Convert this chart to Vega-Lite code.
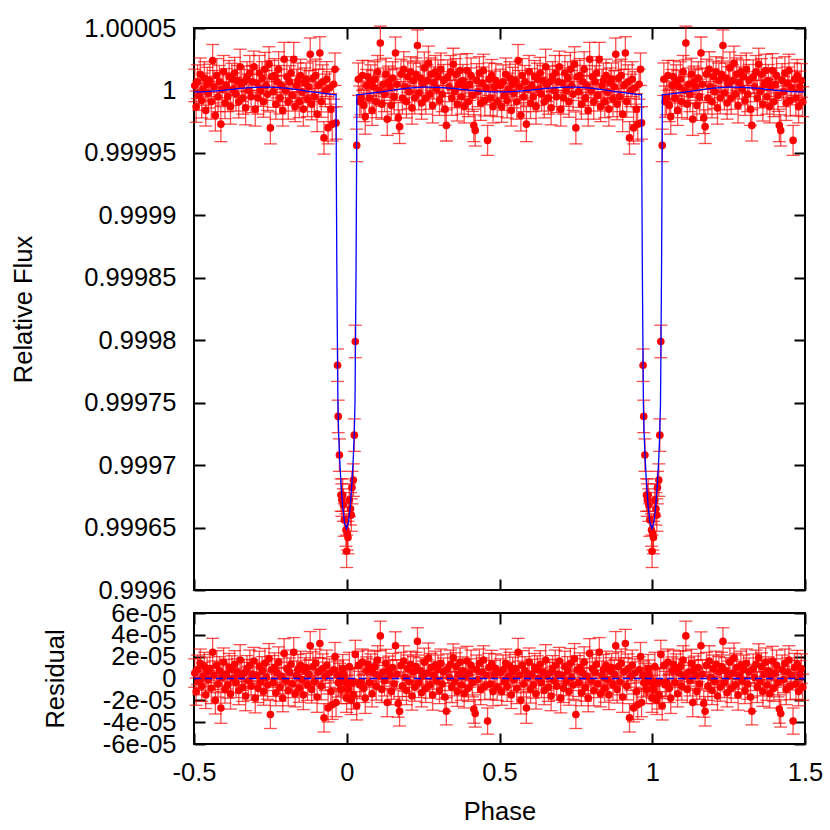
{
"$schema":"https://vega.github.io/schema/vega-lite/v6.json",
"background":"white",
"padding":{"left":10,"top":15,"right":5,"bottom":5},
"config":{"font":"Liberation Sans","view":{"stroke":"black","strokeWidth":2},
"axis":{"domain":false,"grid":false,"tickColor":"black","tickWidth":2,"tickSize":-11,"labelFont":"Liberation Sans","labelFontSize":25.5,"labelColor":"black","titleFont":"Liberation Sans","titleFontSize":25.5,"titleFontWeight":"normal","titleColor":"black","labelOverlap":false,"labelFlush":false,"labelBound":false}},
"datasets":{
"zero":[{"p":-0.5,"r":0},{"p":1.5,"r":0}],
"model":[{"p":-0.5,"f":0.9999988},{"p":-0.475,"f":0.9999989},{"p":-0.45,"f":0.9999992},{"p":-0.425,"f":0.9999997},{"p":-0.4,"f":1.0000003},{"p":-0.375,"f":1.0000009},{"p":-0.35,"f":1.0000016},{"p":-0.325,"f":1.0000021},{"p":-0.3,"f":1.0000025},{"p":-0.275,"f":1.0000027},{"p":-0.25,"f":1.0000026},{"p":-0.225,"f":1.0000023},{"p":-0.2,"f":1.0000018},{"p":-0.175,"f":1.000001},{"p":-0.15,"f":1.0000002},{"p":-0.125,"f":0.9999993},{"p":-0.1,"f":0.9999984},{"p":-0.075,"f":0.9999976},{"p":-0.05,"f":0.9999969},{"p":-0.04,"f":0.9999967},{"p":-0.035,"f":0.9999966},{"p":-0.034,"f":0.99993},{"p":-0.0325,"f":0.99986},{"p":-0.031,"f":0.99981},{"p":-0.029,"f":0.99975},{"p":-0.0265,"f":0.999725},{"p":-0.0235,"f":0.999706},{"p":-0.019,"f":0.999686},{"p":-0.0135,"f":0.999667},{"p":-0.0075,"f":0.999654},{"p":-0.001,"f":0.999649},{"p":0.0055,"f":0.999654},{"p":0.0115,"f":0.999667},{"p":0.017,"f":0.999686},{"p":0.0215,"f":0.999706},{"p":0.0245,"f":0.999725},{"p":0.027,"f":0.99975},{"p":0.029,"f":0.99981},{"p":0.0305,"f":0.99986},{"p":0.032,"f":0.99993},{"p":0.033,"f":0.9999966},{"p":0.04,"f":0.9999967},{"p":0.05,"f":0.9999969},{"p":0.075,"f":0.9999976},{"p":0.1,"f":0.9999984},{"p":0.125,"f":0.9999993},{"p":0.15,"f":1.0000002},{"p":0.175,"f":1.000001},{"p":0.2,"f":1.0000018},{"p":0.225,"f":1.0000023},{"p":0.25,"f":1.0000026},{"p":0.275,"f":1.0000027},{"p":0.3,"f":1.0000025},{"p":0.325,"f":1.0000021},{"p":0.35,"f":1.0000016},{"p":0.375,"f":1.0000009},{"p":0.4,"f":1.0000003},{"p":0.425,"f":0.9999997},{"p":0.45,"f":0.9999992},{"p":0.475,"f":0.9999989},{"p":0.5,"f":0.9999988},{"p":0.525,"f":0.9999989},{"p":0.55,"f":0.9999992},{"p":0.575,"f":0.9999997},{"p":0.6,"f":1.0000003},{"p":0.625,"f":1.0000009},{"p":0.65,"f":1.0000016},{"p":0.675,"f":1.0000021},{"p":0.7,"f":1.0000025},{"p":0.725,"f":1.0000027},{"p":0.75,"f":1.0000026},{"p":0.775,"f":1.0000023},{"p":0.8,"f":1.0000018},{"p":0.825,"f":1.000001},{"p":0.85,"f":1.0000002},{"p":0.875,"f":0.9999993},{"p":0.9,"f":0.9999984},{"p":0.925,"f":0.9999976},{"p":0.95,"f":0.9999969},{"p":0.96,"f":0.9999967},{"p":0.965,"f":0.9999966},{"p":0.966,"f":0.99993},{"p":0.9675,"f":0.99986},{"p":0.969,"f":0.99981},{"p":0.971,"f":0.99975},{"p":0.9735,"f":0.999725},{"p":0.9765,"f":0.999706},{"p":0.981,"f":0.999686},{"p":0.9865,"f":0.999667},{"p":0.9925,"f":0.999654},{"p":0.999,"f":0.999649},{"p":1.0055,"f":0.999654},{"p":1.0115,"f":0.999667},{"p":1.017,"f":0.999686},{"p":1.0215,"f":0.999706},{"p":1.0245,"f":0.999725},{"p":1.027,"f":0.99975},{"p":1.029,"f":0.99981},{"p":1.0305,"f":0.99986},{"p":1.032,"f":0.99993},{"p":1.033,"f":0.9999966},{"p":1.04,"f":0.9999967},{"p":1.05,"f":0.9999969},{"p":1.075,"f":0.9999976},{"p":1.1,"f":0.9999984},{"p":1.125,"f":0.9999993},{"p":1.15,"f":1.0000002},{"p":1.175,"f":1.000001},{"p":1.2,"f":1.0000018},{"p":1.225,"f":1.0000023},{"p":1.25,"f":1.0000026},{"p":1.275,"f":1.0000027},{"p":1.3,"f":1.0000025},{"p":1.325,"f":1.0000021},{"p":1.35,"f":1.0000016},{"p":1.375,"f":1.0000009},{"p":1.4,"f":1.0000003},{"p":1.425,"f":0.9999997},{"p":1.45,"f":0.9999992},{"p":1.475,"f":0.9999989},{"p":1.5,"f":0.9999988}],
"obs":[
{"p":-0.4975,"f":1.000004,"r":5e-6,"e":1.3e-5},{"p":-0.493,"f":0.999987,"r":-1.2e-5,"e":1.25e-5},{"p":-0.4885,"f":1.000007,"r":8e-6,"e":1.35e-5},{"p":-0.484,"f":0.999996,"r":-3e-6,"e":1.2e-5},{"p":-0.4795,"f":1.000013,"r":1.4e-5,"e":1.3e-5},{"p":-0.475,"f":0.999992,"r":-7e-6,"e":1.4e-5},{"p":-0.4705,"f":1.000001,"r":2e-6,"e":1.28e-5},{"p":-0.466,"f":1.00001,"r":1.1e-5,"e":1.3e-5},{"p":-0.4615,"f":0.999984,"r":-1.5e-5,"e":1.25e-5},{"p":-0.457,"f":1.000005,"r":6e-6,"e":1.35e-5},
{"p":-0.4525,"f":0.999998,"r":-1e-6,"e":1.2e-5},{"p":-0.448,"f":1.000008,"r":9e-6,"e":1.3e-5},{"p":-0.4435,"f":0.999991,"r":-9e-6,"e":1.4e-5},{"p":-0.439,"f":1.000024,"r":2.4e-5,"e":1.28e-5},{"p":-0.4345,"f":1.000003,"r":3e-6,"e":1.3e-5},{"p":-0.43,"f":0.99998,"r":-2e-5,"e":1.25e-5},{"p":-0.4255,"f":1.000012,"r":1.2e-5,"e":1.35e-5},{"p":-0.421,"f":0.999995,"r":-5e-6,"e":1.2e-5},{"p":-0.4165,"f":1.000007,"r":7e-6,"e":1.3e-5},{"p":-0.412,"f":0.999973,"r":-2.7e-5,"e":1.4e-5},
{"p":-0.4075,"f":1.000001,"r":1e-6,"e":1.28e-5},{"p":-0.403,"f":1.000015,"r":1.5e-5,"e":1.3e-5},{"p":-0.3985,"f":0.99999,"r":-1e-5,"e":1.25e-5},{"p":-0.394,"f":1.000004,"r":4e-6,"e":1.35e-5},{"p":-0.3895,"f":0.999995,"r":-6e-6,"e":1.2e-5},{"p":-0.385,"f":1.000011,"r":1e-5,"e":1.3e-5},{"p":-0.3805,"f":0.999987,"r":-1.4e-5,"e":1.4e-5},{"p":-0.376,"f":1.000009,"r":8e-6,"e":1.28e-5},{"p":-0.3715,"f":1.000001,"r":0,"e":1.3e-5},{"p":-0.367,"f":1.000014,"r":1.3e-5,"e":1.25e-5},
{"p":-0.3625,"f":0.999997,"r":-4e-6,"e":1.35e-5},{"p":-0.358,"f":1.000008,"r":6e-6,"e":1.2e-5},{"p":-0.3535,"f":0.999991,"r":-1.1e-5,"e":1.3e-5},{"p":-0.349,"f":1.000019,"r":1.7e-5,"e":1.4e-5},{"p":-0.3445,"f":1.000004,"r":2e-6,"e":1.28e-5},{"p":-0.34,"f":0.999994,"r":-8e-6,"e":1.3e-5},{"p":-0.3355,"f":1.000007,"r":5e-6,"e":1.25e-5},{"p":-0.331,"f":0.999986,"r":-1.6e-5,"e":1.35e-5},{"p":-0.3265,"f":1.000011,"r":9e-6,"e":1.2e-5},{"p":-0.322,"f":1.0,"r":-2e-6,"e":1.3e-5},
{"p":-0.3175,"f":1.000014,"r":1.2e-5,"e":1.4e-5},{"p":-0.313,"f":0.999995,"r":-7e-6,"e":1.28e-5},{"p":-0.3085,"f":1.000007,"r":4e-6,"e":1.3e-5},{"p":-0.304,"f":1.000019,"r":1.6e-5,"e":1.25e-5},{"p":-0.2995,"f":0.999985,"r":-1.8e-5,"e":1.35e-5},{"p":-0.295,"f":1.000006,"r":3e-6,"e":1.2e-5},{"p":-0.2905,"f":0.999994,"r":-9e-6,"e":1.3e-5},{"p":-0.286,"f":1.000014,"r":1.1e-5,"e":1.4e-5},{"p":-0.2815,"f":1.0,"r":-3e-6,"e":1.28e-5},{"p":-0.277,"f":1.00001,"r":7e-6,"e":1.3e-5},
{"p":-0.2725,"f":0.999991,"r":-1.2e-5,"e":1.25e-5},{"p":-0.268,"f":1.000017,"r":1.4e-5,"e":1.35e-5},{"p":-0.2635,"f":1.000004,"r":1e-6,"e":1.2e-5},{"p":-0.259,"f":0.999997,"r":-6e-6,"e":1.3e-5},{"p":-0.2545,"f":1.000021,"r":1.8e-5,"e":1.4e-5},{"p":-0.25,"f":0.99997,"r":-3.3e-5,"e":1.28e-5},{"p":-0.2455,"f":1.000011,"r":8e-6,"e":1.3e-5},{"p":-0.241,"f":0.999999,"r":-4e-6,"e":1.25e-5},{"p":-0.2365,"f":1.000012,"r":1e-5,"e":1.35e-5},{"p":-0.232,"f":0.999989,"r":-1.3e-5,"e":1.2e-5},
{"p":-0.2275,"f":1.000007,"r":5e-6,"e":1.3e-5},{"p":-0.223,"f":1.000017,"r":1.5e-5,"e":1.4e-5},{"p":-0.2185,"f":0.999994,"r":-8e-6,"e":1.28e-5},{"p":-0.214,"f":1.000004,"r":2e-6,"e":1.3e-5},{"p":-0.2095,"f":0.999984,"r":-1.8e-5,"e":1.25e-5},{"p":-0.205,"f":1.000025,"r":2.3e-5,"e":1.35e-5},{"p":-0.2005,"f":1.0,"r":-2e-6,"e":1.2e-5},{"p":-0.196,"f":1.000011,"r":9e-6,"e":1.3e-5},{"p":-0.1915,"f":0.999991,"r":-1.1e-5,"e":1.4e-5},{"p":-0.187,"f":1.000007,"r":6e-6,"e":1.28e-5},
{"p":-0.1825,"f":1.000014,"r":1.3e-5,"e":1.3e-5},{"p":-0.178,"f":0.999996,"r":-5e-6,"e":1.25e-5},{"p":-0.1735,"f":1.000025,"r":2.4e-5,"e":1.35e-5},{"p":-0.169,"f":0.999987,"r":-1.4e-5,"e":1.2e-5},{"p":-0.1645,"f":1.000004,"r":3e-6,"e":1.3e-5},{"p":-0.16,"f":1.000008,"r":8e-6,"e":1.4e-5},{"p":-0.1555,"f":0.999991,"r":-9e-6,"e":1.28e-5},{"p":-0.151,"f":1.000012,"r":1.2e-5,"e":1.3e-5},{"p":-0.1465,"f":0.999999,"r":-1e-6,"e":1.25e-5},{"p":-0.142,"f":0.999985,"r":-1.5e-5,"e":1.35e-5},
{"p":-0.1375,"f":1.000006,"r":7e-6,"e":1.2e-5},{"p":-0.133,"f":1.000009,"r":1e-5,"e":1.3e-5},{"p":-0.1285,"f":0.999993,"r":-6e-6,"e":1.4e-5},{"p":-0.124,"f":1.000003,"r":4e-6,"e":1.28e-5},{"p":-0.1195,"f":1.000029,"r":3e-5,"e":1.3e-5},{"p":-0.115,"f":0.999989,"r":-1e-5,"e":1.25e-5},{"p":-0.1105,"f":1.00001,"r":1.1e-5,"e":1.35e-5},{"p":-0.106,"f":0.999995,"r":-3e-6,"e":1.2e-5},{"p":-0.1015,"f":1.000012,"r":1.4e-5,"e":1.3e-5},{"p":-0.097,"f":0.999981,"r":-1.7e-5,"e":1.4e-5},
{"p":-0.0925,"f":1.000004,"r":6e-6,"e":1.28e-5},{"p":-0.088,"f":1.00003,"r":3.2e-5,"e":1.3e-5},{"p":-0.0835,"f":0.999991,"r":-7e-6,"e":1.25e-5},{"p":-0.079,"f":1.000007,"r":9e-6,"e":1.35e-5},{"p":-0.0745,"f":0.999962,"r":-3.6e-5,"e":1.3e-5},{"p":-0.07,"f":1.0,"r":2e-6,"e":1.3e-5},{"p":-0.0655,"f":1.000009,"r":1.2e-5,"e":1.4e-5},{"p":-0.061,"f":0.99997,"r":-2.7e-5,"e":1.28e-5},{"p":-0.0565,"f":1.000002,"r":5e-6,"e":1.3e-5},{"p":-0.052,"f":0.999985,"r":-1.2e-5,"e":1.25e-5},
{"p":-0.0475,"f":0.999973,"r":-2.4e-5,"e":1.35e-5},{"p":-0.043,"f":1.000005,"r":8e-6,"e":1.2e-5},{"p":-0.0385,"f":1.000017,"r":2e-5,"e":1.3e-5},
{"p":-0.035,"f":0.999974,"r":-2.2e-5,"e":1.3e-5},{"p":-0.03,"f":0.99978,"r":3e-6,"e":1.3e-5},{"p":-0.028,"f":0.999739,"r":-4e-6,"e":1.3e-5},{"p":-0.024,"f":0.999708,"r":1e-6,"e":1.3e-5},{"p":-0.019,"f":0.999676,"r":-1e-5,"e":1.3e-5},{"p":-0.016,"f":0.999672,"r":-3e-6,"e":1.3e-5},{"p":-0.0133,"f":0.999676,"r":9e-6,"e":1.3e-5},{"p":-0.011,"f":0.999668,"r":4e-6,"e":1.3e-5},{"p":-0.008,"f":0.999656,"r":-1e-6,"e":1.3e-5},{"p":-0.0025,"f":0.999648,"r":-2e-6,"e":1.3e-5},{"p":-0.0005,"f":0.999631,"r":-1.8e-5,"e":1.3e-5},
{"p":0.002,"f":0.999645,"r":-5e-6,"e":1.3e-5},{"p":0.004,"f":0.999642,"r":-1e-5,"e":1.3e-5},{"p":0.0085,"f":0.999672,"r":1.1e-5,"e":1.3e-5},{"p":0.012,"f":0.999665,"r":-3e-6,"e":1.3e-5},{"p":0.015,"f":0.99966,"r":-2e-5,"e":1.3e-5},{"p":0.017,"f":0.999682,"r":-4e-6,"e":1.3e-5},{"p":0.0215,"f":0.999688,"r":-1.5e-5,"e":1.3e-5},{"p":0.0248,"f":0.999724,"r":-3e-6,"e":1.3e-5},{"p":0.028,"f":0.999799,"r":2.2e-5,"e":1.3e-5},{"p":0.0326,"f":0.999956,"r":-2.5e-5,"e":1.3e-5},
{"p":0.038,"f":1.000009,"r":1.2e-5,"e":1.3e-5},{"p":0.0425,"f":0.999991,"r":-6e-6,"e":1.25e-5},{"p":0.047,"f":0.999994,"r":-3e-6,"e":1.35e-5},{"p":0.0515,"f":1.000012,"r":1.5e-5,"e":1.2e-5},{"p":0.056,"f":0.999988,"r":-9e-6,"e":1.3e-5},{"p":0.0605,"f":0.999979,"r":-1.8e-5,"e":1.4e-5},{"p":0.065,"f":1.000004,"r":7e-6,"e":1.28e-5},{"p":0.0695,"f":1.000011,"r":1.3e-5,"e":1.3e-5},{"p":0.074,"f":0.999994,"r":-4e-6,"e":1.25e-5},{"p":0.0785,"f":1.000007,"r":9e-6,"e":1.35e-5},
{"p":0.083,"f":0.999984,"r":-1.4e-5,"e":1.2e-5},{"p":0.0875,"f":1.000003,"r":5e-6,"e":1.3e-5},{"p":0.092,"f":1.000009,"r":1.1e-5,"e":1.4e-5},{"p":0.0965,"f":0.999991,"r":-7e-6,"e":1.28e-5},{"p":0.101,"f":1.000015,"r":1.7e-5,"e":1.3e-5},{"p":0.1055,"f":1.0,"r":2e-6,"e":1.25e-5},{"p":0.11,"f":1.000038,"r":3.9e-5,"e":1.35e-5},{"p":0.1145,"f":0.999989,"r":-1e-5,"e":1.2e-5},{"p":0.119,"f":1.000005,"r":6e-6,"e":1.3e-5},{"p":0.1235,"f":0.999997,"r":-2e-6,"e":1.4e-5},
{"p":0.128,"f":1.000013,"r":1.4e-5,"e":1.28e-5},{"p":0.1325,"f":0.999977,"r":-2.2e-5,"e":1.3e-5},{"p":0.137,"f":1.000007,"r":8e-6,"e":1.25e-5},{"p":0.1415,"f":1.000003,"r":3e-6,"e":1.35e-5},{"p":0.146,"f":0.999988,"r":-1.2e-5,"e":1.2e-5},{"p":0.1505,"f":1.00001,"r":1e-5,"e":1.3e-5},{"p":0.155,"f":0.999995,"r":-5e-6,"e":1.4e-5},{"p":0.1595,"f":1.00003,"r":3e-5,"e":1.28e-5},{"p":0.164,"f":1.000005,"r":4e-6,"e":1.3e-5},{"p":0.1685,"f":0.999978,"r":-2.3e-5,"e":1.25e-5},
{"p":0.173,"f":0.999971,"r":-3e-5,"e":1.35e-5},{"p":0.1775,"f":1.000013,"r":1.2e-5,"e":1.2e-5},{"p":0.182,"f":0.999994,"r":-7e-6,"e":1.3e-5},{"p":0.1865,"f":1.000017,"r":1.6e-5,"e":1.4e-5},{"p":0.191,"f":1.000003,"r":1e-6,"e":1.28e-5},{"p":0.1955,"f":0.999991,"r":-1.1e-5,"e":1.3e-5},{"p":0.2,"f":1.000011,"r":9e-6,"e":1.25e-5},{"p":0.2045,"f":0.999999,"r":-3e-6,"e":1.35e-5},{"p":0.209,"f":1.000015,"r":1.3e-5,"e":1.2e-5},{"p":0.2135,"f":0.999986,"r":-1.6e-5,"e":1.3e-5},
{"p":0.218,"f":1.000008,"r":6e-6,"e":1.4e-5},{"p":0.2225,"f":0.999994,"r":-8e-6,"e":1.28e-5},{"p":0.227,"f":1.000013,"r":1.1e-5,"e":1.3e-5},{"p":0.2315,"f":1.000036,"r":3.4e-5,"e":1.25e-5},{"p":0.236,"f":0.999998,"r":-4e-6,"e":1.35e-5},{"p":0.2405,"f":1.00001,"r":7e-6,"e":1.2e-5},{"p":0.245,"f":0.99999,"r":-1.3e-5,"e":1.3e-5},{"p":0.2495,"f":1.000005,"r":2e-6,"e":1.4e-5},{"p":0.254,"f":1.000018,"r":1.5e-5,"e":1.28e-5},{"p":0.2585,"f":0.999994,"r":-9e-6,"e":1.3e-5},
{"p":0.263,"f":1.000008,"r":5e-6,"e":1.25e-5},{"p":0.2675,"f":1.000022,"r":1.9e-5,"e":1.35e-5},{"p":0.272,"f":0.999997,"r":-6e-6,"e":1.2e-5},{"p":0.2765,"f":1.000013,"r":1e-5,"e":1.3e-5},{"p":0.281,"f":0.999988,"r":-1.5e-5,"e":1.4e-5},{"p":0.2855,"f":1.000006,"r":3e-6,"e":1.28e-5},{"p":0.29,"f":1.000015,"r":1.2e-5,"e":1.3e-5},{"p":0.2945,"f":1.000001,"r":-2e-6,"e":1.25e-5},{"p":0.299,"f":1.000011,"r":8e-6,"e":1.35e-5},{"p":0.3035,"f":0.999992,"r":-1.1e-5,"e":1.2e-5},
{"p":0.308,"f":1.000017,"r":1.4e-5,"e":1.3e-5},{"p":0.3125,"f":0.999997,"r":-5e-6,"e":1.4e-5},{"p":0.317,"f":1.000008,"r":6e-6,"e":1.28e-5},{"p":0.3215,"f":0.999985,"r":-1.7e-5,"e":1.3e-5},{"p":0.326,"f":0.999972,"r":-3e-5,"e":1.25e-5},{"p":0.3305,"f":1.000011,"r":9e-6,"e":1.35e-5},{"p":0.335,"f":1.000003,"r":1e-6,"e":1.2e-5},{"p":0.3395,"f":1.000015,"r":1.3e-5,"e":1.3e-5},{"p":0.344,"f":0.999994,"r":-8e-6,"e":1.4e-5},{"p":0.3485,"f":1.000021,"r":1.9e-5,"e":1.28e-5},
{"p":0.353,"f":0.999999,"r":-3e-6,"e":1.3e-5},{"p":0.3575,"f":1.000013,"r":1.1e-5,"e":1.25e-5},{"p":0.362,"f":0.999989,"r":-1.2e-5,"e":1.35e-5},{"p":0.3665,"f":1.000005,"r":4e-6,"e":1.2e-5},{"p":0.371,"f":1.000016,"r":1.5e-5,"e":1.3e-5},{"p":0.3755,"f":0.999995,"r":-6e-6,"e":1.4e-5},{"p":0.38,"f":1.000008,"r":7e-6,"e":1.28e-5},{"p":0.3845,"f":0.999987,"r":-1.4e-5,"e":1.3e-5},{"p":0.389,"f":1.000003,"r":2e-6,"e":1.25e-5},{"p":0.3935,"f":1.000016,"r":1.6e-5,"e":1.35e-5},
{"p":0.398,"f":0.999991,"r":-9e-6,"e":1.2e-5},{"p":0.4025,"f":1.000005,"r":5e-6,"e":1.3e-5},{"p":0.407,"f":1.000012,"r":1.2e-5,"e":1.4e-5},{"p":0.4115,"f":0.999996,"r":-4e-6,"e":1.28e-5},{"p":0.416,"f":0.999972,"r":-2.8e-5,"e":1.3e-5},{"p":0.4205,"f":0.999968,"r":-3.2e-5,"e":1.25e-5},{"p":0.425,"f":1.000008,"r":8e-6,"e":1.35e-5},{"p":0.4295,"f":0.999999,"r":-1e-6,"e":1.2e-5},{"p":0.434,"f":1.000014,"r":1.4e-5,"e":1.3e-5},{"p":0.4385,"f":0.99999,"r":-1e-5,"e":1.4e-5},
{"p":0.443,"f":1.000006,"r":6e-6,"e":1.28e-5},{"p":0.4475,"f":1.000016,"r":1.7e-5,"e":1.3e-5},{"p":0.452,"f":0.999992,"r":-7e-6,"e":1.25e-5},{"p":0.4565,"f":1.000002,"r":3e-6,"e":1.35e-5},{"p":0.461,"f":0.99996,"r":-3.9e-5,"e":1.2e-5},{"p":0.4655,"f":1.000009,"r":1e-5,"e":1.3e-5},{"p":0.47,"f":0.999994,"r":-5e-6,"e":1.4e-5},{"p":0.4745,"f":1.000012,"r":1.3e-5,"e":1.28e-5},{"p":0.479,"f":0.999987,"r":-1.2e-5,"e":1.3e-5},{"p":0.4835,"f":1.000003,"r":4e-6,"e":1.25e-5},
{"p":0.488,"f":1.000008,"r":9e-6,"e":1.35e-5},{"p":0.4925,"f":0.999991,"r":-8e-6,"e":1.2e-5},
{"p":0.5025,"f":1.000004,"r":5e-6,"e":1.3e-5},{"p":0.507,"f":0.999987,"r":-1.2e-5,"e":1.25e-5},{"p":0.5115,"f":1.000007,"r":8e-6,"e":1.35e-5},{"p":0.516,"f":0.999996,"r":-3e-6,"e":1.2e-5},{"p":0.5205,"f":1.000013,"r":1.4e-5,"e":1.3e-5},{"p":0.525,"f":0.999992,"r":-7e-6,"e":1.4e-5},{"p":0.5295,"f":1.000001,"r":2e-6,"e":1.28e-5},{"p":0.534,"f":1.00001,"r":1.1e-5,"e":1.3e-5},{"p":0.5385,"f":0.999984,"r":-1.5e-5,"e":1.25e-5},{"p":0.543,"f":1.000005,"r":6e-6,"e":1.35e-5},
{"p":0.5475,"f":0.999998,"r":-1e-6,"e":1.2e-5},{"p":0.552,"f":1.000008,"r":9e-6,"e":1.3e-5},{"p":0.5565,"f":0.999991,"r":-9e-6,"e":1.4e-5},{"p":0.561,"f":1.000024,"r":2.4e-5,"e":1.28e-5},{"p":0.5655,"f":1.000003,"r":3e-6,"e":1.3e-5},{"p":0.57,"f":0.99998,"r":-2e-5,"e":1.25e-5},{"p":0.5745,"f":1.000012,"r":1.2e-5,"e":1.35e-5},{"p":0.579,"f":0.999995,"r":-5e-6,"e":1.2e-5},{"p":0.5835,"f":1.000007,"r":7e-6,"e":1.3e-5},{"p":0.588,"f":0.999973,"r":-2.7e-5,"e":1.4e-5},
{"p":0.5925,"f":1.000001,"r":1e-6,"e":1.28e-5},{"p":0.597,"f":1.000015,"r":1.5e-5,"e":1.3e-5},{"p":0.6015,"f":0.99999,"r":-1e-5,"e":1.25e-5},{"p":0.606,"f":1.000004,"r":4e-6,"e":1.35e-5},{"p":0.6105,"f":0.999995,"r":-6e-6,"e":1.2e-5},{"p":0.615,"f":1.000011,"r":1e-5,"e":1.3e-5},{"p":0.6195,"f":0.999987,"r":-1.4e-5,"e":1.4e-5},{"p":0.624,"f":1.000009,"r":8e-6,"e":1.28e-5},{"p":0.6285,"f":1.000001,"r":0,"e":1.3e-5},{"p":0.633,"f":1.000014,"r":1.3e-5,"e":1.25e-5},
{"p":0.6375,"f":0.999997,"r":-4e-6,"e":1.35e-5},{"p":0.642,"f":1.000008,"r":6e-6,"e":1.2e-5},{"p":0.6465,"f":0.999991,"r":-1.1e-5,"e":1.3e-5},{"p":0.651,"f":1.000019,"r":1.7e-5,"e":1.4e-5},{"p":0.6555,"f":1.000004,"r":2e-6,"e":1.28e-5},{"p":0.66,"f":0.999994,"r":-8e-6,"e":1.3e-5},{"p":0.6645,"f":1.000007,"r":5e-6,"e":1.25e-5},{"p":0.669,"f":0.999986,"r":-1.6e-5,"e":1.35e-5},{"p":0.6735,"f":1.000011,"r":9e-6,"e":1.2e-5},{"p":0.678,"f":1.0,"r":-2e-6,"e":1.3e-5},
{"p":0.6825,"f":1.000014,"r":1.2e-5,"e":1.4e-5},{"p":0.687,"f":0.999995,"r":-7e-6,"e":1.28e-5},{"p":0.6915,"f":1.000007,"r":4e-6,"e":1.3e-5},{"p":0.696,"f":1.000019,"r":1.6e-5,"e":1.25e-5},{"p":0.7005,"f":0.999985,"r":-1.8e-5,"e":1.35e-5},{"p":0.705,"f":1.000006,"r":3e-6,"e":1.2e-5},{"p":0.7095,"f":0.999994,"r":-9e-6,"e":1.3e-5},{"p":0.714,"f":1.000014,"r":1.1e-5,"e":1.4e-5},{"p":0.7185,"f":1.0,"r":-3e-6,"e":1.28e-5},{"p":0.723,"f":1.00001,"r":7e-6,"e":1.3e-5},
{"p":0.7275,"f":0.999991,"r":-1.2e-5,"e":1.25e-5},{"p":0.732,"f":1.000017,"r":1.4e-5,"e":1.35e-5},{"p":0.7365,"f":1.000004,"r":1e-6,"e":1.2e-5},{"p":0.741,"f":0.999997,"r":-6e-6,"e":1.3e-5},{"p":0.7455,"f":1.000021,"r":1.8e-5,"e":1.4e-5},{"p":0.75,"f":0.99997,"r":-3.3e-5,"e":1.28e-5},{"p":0.7545,"f":1.000011,"r":8e-6,"e":1.3e-5},{"p":0.759,"f":0.999999,"r":-4e-6,"e":1.25e-5},{"p":0.7635,"f":1.000012,"r":1e-5,"e":1.35e-5},{"p":0.768,"f":0.999989,"r":-1.3e-5,"e":1.2e-5},
{"p":0.7725,"f":1.000007,"r":5e-6,"e":1.3e-5},{"p":0.777,"f":1.000017,"r":1.5e-5,"e":1.4e-5},{"p":0.7815,"f":0.999994,"r":-8e-6,"e":1.28e-5},{"p":0.786,"f":1.000004,"r":2e-6,"e":1.3e-5},{"p":0.7905,"f":0.999984,"r":-1.8e-5,"e":1.25e-5},{"p":0.795,"f":1.000025,"r":2.3e-5,"e":1.35e-5},{"p":0.7995,"f":1.0,"r":-2e-6,"e":1.2e-5},{"p":0.804,"f":1.000011,"r":9e-6,"e":1.3e-5},{"p":0.8085,"f":0.999991,"r":-1.1e-5,"e":1.4e-5},{"p":0.813,"f":1.000007,"r":6e-6,"e":1.28e-5},
{"p":0.8175,"f":1.000014,"r":1.3e-5,"e":1.3e-5},{"p":0.822,"f":0.999996,"r":-5e-6,"e":1.25e-5},{"p":0.8265,"f":1.000025,"r":2.4e-5,"e":1.35e-5},{"p":0.831,"f":0.999987,"r":-1.4e-5,"e":1.2e-5},{"p":0.8355,"f":1.000004,"r":3e-6,"e":1.3e-5},{"p":0.84,"f":1.000008,"r":8e-6,"e":1.4e-5},{"p":0.8445,"f":0.999991,"r":-9e-6,"e":1.28e-5},{"p":0.849,"f":1.000012,"r":1.2e-5,"e":1.3e-5},{"p":0.8535,"f":0.999999,"r":-1e-6,"e":1.25e-5},{"p":0.858,"f":0.999985,"r":-1.5e-5,"e":1.35e-5},
{"p":0.8625,"f":1.000006,"r":7e-6,"e":1.2e-5},{"p":0.867,"f":1.000009,"r":1e-5,"e":1.3e-5},{"p":0.8715,"f":0.999993,"r":-6e-6,"e":1.4e-5},{"p":0.876,"f":1.000003,"r":4e-6,"e":1.28e-5},{"p":0.8805,"f":1.000029,"r":3e-5,"e":1.3e-5},{"p":0.885,"f":0.999989,"r":-1e-5,"e":1.25e-5},{"p":0.8895,"f":1.00001,"r":1.1e-5,"e":1.35e-5},{"p":0.894,"f":0.999995,"r":-3e-6,"e":1.2e-5},{"p":0.8985,"f":1.000012,"r":1.4e-5,"e":1.3e-5},{"p":0.903,"f":0.999981,"r":-1.7e-5,"e":1.4e-5},
{"p":0.9075,"f":1.000004,"r":6e-6,"e":1.28e-5},{"p":0.912,"f":1.00003,"r":3.2e-5,"e":1.3e-5},{"p":0.9165,"f":0.999991,"r":-7e-6,"e":1.25e-5},{"p":0.921,"f":1.000007,"r":9e-6,"e":1.35e-5},{"p":0.9255,"f":0.999962,"r":-3.6e-5,"e":1.3e-5},{"p":0.93,"f":1.0,"r":2e-6,"e":1.3e-5},{"p":0.9345,"f":1.000009,"r":1.2e-5,"e":1.4e-5},{"p":0.939,"f":0.99997,"r":-2.7e-5,"e":1.28e-5},{"p":0.9435,"f":1.000002,"r":5e-6,"e":1.3e-5},{"p":0.948,"f":0.999985,"r":-1.2e-5,"e":1.25e-5},
{"p":0.9525,"f":0.999973,"r":-2.4e-5,"e":1.35e-5},{"p":0.957,"f":1.000005,"r":8e-6,"e":1.2e-5},{"p":0.9615,"f":1.000017,"r":2e-5,"e":1.3e-5},
{"p":0.965,"f":0.999974,"r":-2.2e-5,"e":1.3e-5},{"p":0.97,"f":0.99978,"r":3e-6,"e":1.3e-5},{"p":0.972,"f":0.999739,"r":-4e-6,"e":1.3e-5},{"p":0.976,"f":0.999708,"r":1e-6,"e":1.3e-5},{"p":0.981,"f":0.999676,"r":-1e-5,"e":1.3e-5},{"p":0.984,"f":0.999672,"r":-3e-6,"e":1.3e-5},{"p":0.9867,"f":0.999676,"r":9e-6,"e":1.3e-5},{"p":0.989,"f":0.999668,"r":4e-6,"e":1.3e-5},{"p":0.992,"f":0.999656,"r":-1e-6,"e":1.3e-5},{"p":0.9975,"f":0.999648,"r":-2e-6,"e":1.3e-5},{"p":0.9995,"f":0.999631,"r":-1.8e-5,"e":1.3e-5},
{"p":1.002,"f":0.999645,"r":-5e-6,"e":1.3e-5},{"p":1.004,"f":0.999642,"r":-1e-5,"e":1.3e-5},{"p":1.0085,"f":0.999672,"r":1.1e-5,"e":1.3e-5},{"p":1.012,"f":0.999665,"r":-3e-6,"e":1.3e-5},{"p":1.015,"f":0.99966,"r":-2e-5,"e":1.3e-5},{"p":1.017,"f":0.999682,"r":-4e-6,"e":1.3e-5},{"p":1.0215,"f":0.999688,"r":-1.5e-5,"e":1.3e-5},{"p":1.0248,"f":0.999724,"r":-3e-6,"e":1.3e-5},{"p":1.028,"f":0.999799,"r":2.2e-5,"e":1.3e-5},{"p":1.0326,"f":0.999956,"r":-2.5e-5,"e":1.3e-5},
{"p":1.038,"f":1.000009,"r":1.2e-5,"e":1.3e-5},{"p":1.0425,"f":0.999991,"r":-6e-6,"e":1.25e-5},{"p":1.047,"f":0.999994,"r":-3e-6,"e":1.35e-5},{"p":1.0515,"f":1.000012,"r":1.5e-5,"e":1.2e-5},{"p":1.056,"f":0.999988,"r":-9e-6,"e":1.3e-5},{"p":1.0605,"f":0.999979,"r":-1.8e-5,"e":1.4e-5},{"p":1.065,"f":1.000004,"r":7e-6,"e":1.28e-5},{"p":1.0695,"f":1.000011,"r":1.3e-5,"e":1.3e-5},{"p":1.074,"f":0.999994,"r":-4e-6,"e":1.25e-5},{"p":1.0785,"f":1.000007,"r":9e-6,"e":1.35e-5},
{"p":1.083,"f":0.999984,"r":-1.4e-5,"e":1.2e-5},{"p":1.0875,"f":1.000003,"r":5e-6,"e":1.3e-5},{"p":1.092,"f":1.000009,"r":1.1e-5,"e":1.4e-5},{"p":1.0965,"f":0.999991,"r":-7e-6,"e":1.28e-5},{"p":1.101,"f":1.000015,"r":1.7e-5,"e":1.3e-5},{"p":1.1055,"f":1.0,"r":2e-6,"e":1.25e-5},{"p":1.11,"f":1.000038,"r":3.9e-5,"e":1.35e-5},{"p":1.1145,"f":0.999989,"r":-1e-5,"e":1.2e-5},{"p":1.119,"f":1.000005,"r":6e-6,"e":1.3e-5},{"p":1.1235,"f":0.999997,"r":-2e-6,"e":1.4e-5},
{"p":1.128,"f":1.000013,"r":1.4e-5,"e":1.28e-5},{"p":1.1325,"f":0.999977,"r":-2.2e-5,"e":1.3e-5},{"p":1.137,"f":1.000007,"r":8e-6,"e":1.25e-5},{"p":1.1415,"f":1.000003,"r":3e-6,"e":1.35e-5},{"p":1.146,"f":0.999988,"r":-1.2e-5,"e":1.2e-5},{"p":1.1505,"f":1.00001,"r":1e-5,"e":1.3e-5},{"p":1.155,"f":0.999995,"r":-5e-6,"e":1.4e-5},{"p":1.1595,"f":1.00003,"r":3e-5,"e":1.28e-5},{"p":1.164,"f":1.000005,"r":4e-6,"e":1.3e-5},{"p":1.1685,"f":0.999978,"r":-2.3e-5,"e":1.25e-5},
{"p":1.173,"f":0.999971,"r":-3e-5,"e":1.35e-5},{"p":1.1775,"f":1.000013,"r":1.2e-5,"e":1.2e-5},{"p":1.182,"f":0.999994,"r":-7e-6,"e":1.3e-5},{"p":1.1865,"f":1.000017,"r":1.6e-5,"e":1.4e-5},{"p":1.191,"f":1.000003,"r":1e-6,"e":1.28e-5},{"p":1.1955,"f":0.999991,"r":-1.1e-5,"e":1.3e-5},{"p":1.2,"f":1.000011,"r":9e-6,"e":1.25e-5},{"p":1.2045,"f":0.999999,"r":-3e-6,"e":1.35e-5},{"p":1.209,"f":1.000015,"r":1.3e-5,"e":1.2e-5},{"p":1.2135,"f":0.999986,"r":-1.6e-5,"e":1.3e-5},
{"p":1.218,"f":1.000008,"r":6e-6,"e":1.4e-5},{"p":1.2225,"f":0.999994,"r":-8e-6,"e":1.28e-5},{"p":1.227,"f":1.000013,"r":1.1e-5,"e":1.3e-5},{"p":1.2315,"f":1.000036,"r":3.4e-5,"e":1.25e-5},{"p":1.236,"f":0.999998,"r":-4e-6,"e":1.35e-5},{"p":1.2405,"f":1.00001,"r":7e-6,"e":1.2e-5},{"p":1.245,"f":0.99999,"r":-1.3e-5,"e":1.3e-5},{"p":1.2495,"f":1.000005,"r":2e-6,"e":1.4e-5},{"p":1.254,"f":1.000018,"r":1.5e-5,"e":1.28e-5},{"p":1.2585,"f":0.999994,"r":-9e-6,"e":1.3e-5},
{"p":1.263,"f":1.000008,"r":5e-6,"e":1.25e-5},{"p":1.2675,"f":1.000022,"r":1.9e-5,"e":1.35e-5},{"p":1.272,"f":0.999997,"r":-6e-6,"e":1.2e-5},{"p":1.2765,"f":1.000013,"r":1e-5,"e":1.3e-5},{"p":1.281,"f":0.999988,"r":-1.5e-5,"e":1.4e-5},{"p":1.2855,"f":1.000006,"r":3e-6,"e":1.28e-5},{"p":1.29,"f":1.000015,"r":1.2e-5,"e":1.3e-5},{"p":1.2945,"f":1.000001,"r":-2e-6,"e":1.25e-5},{"p":1.299,"f":1.000011,"r":8e-6,"e":1.35e-5},{"p":1.3035,"f":0.999992,"r":-1.1e-5,"e":1.2e-5},
{"p":1.308,"f":1.000017,"r":1.4e-5,"e":1.3e-5},{"p":1.3125,"f":0.999997,"r":-5e-6,"e":1.4e-5},{"p":1.317,"f":1.000008,"r":6e-6,"e":1.28e-5},{"p":1.3215,"f":0.999985,"r":-1.7e-5,"e":1.3e-5},{"p":1.326,"f":0.999972,"r":-3e-5,"e":1.25e-5},{"p":1.3305,"f":1.000011,"r":9e-6,"e":1.35e-5},{"p":1.335,"f":1.000003,"r":1e-6,"e":1.2e-5},{"p":1.3395,"f":1.000015,"r":1.3e-5,"e":1.3e-5},{"p":1.344,"f":0.999994,"r":-8e-6,"e":1.4e-5},{"p":1.3485,"f":1.000021,"r":1.9e-5,"e":1.28e-5},
{"p":1.353,"f":0.999999,"r":-3e-6,"e":1.3e-5},{"p":1.3575,"f":1.000013,"r":1.1e-5,"e":1.25e-5},{"p":1.362,"f":0.999989,"r":-1.2e-5,"e":1.35e-5},{"p":1.3665,"f":1.000005,"r":4e-6,"e":1.2e-5},{"p":1.371,"f":1.000016,"r":1.5e-5,"e":1.3e-5},{"p":1.3755,"f":0.999995,"r":-6e-6,"e":1.4e-5},{"p":1.38,"f":1.000008,"r":7e-6,"e":1.28e-5},{"p":1.3845,"f":0.999987,"r":-1.4e-5,"e":1.3e-5},{"p":1.389,"f":1.000003,"r":2e-6,"e":1.25e-5},{"p":1.3935,"f":1.000016,"r":1.6e-5,"e":1.35e-5},
{"p":1.398,"f":0.999991,"r":-9e-6,"e":1.2e-5},{"p":1.4025,"f":1.000005,"r":5e-6,"e":1.3e-5},{"p":1.407,"f":1.000012,"r":1.2e-5,"e":1.4e-5},{"p":1.4115,"f":0.999996,"r":-4e-6,"e":1.28e-5},{"p":1.416,"f":0.999972,"r":-2.8e-5,"e":1.3e-5},{"p":1.4205,"f":0.999968,"r":-3.2e-5,"e":1.25e-5},{"p":1.425,"f":1.000008,"r":8e-6,"e":1.35e-5},{"p":1.4295,"f":0.999999,"r":-1e-6,"e":1.2e-5},{"p":1.434,"f":1.000014,"r":1.4e-5,"e":1.3e-5},{"p":1.4385,"f":0.99999,"r":-1e-5,"e":1.4e-5},
{"p":1.443,"f":1.000006,"r":6e-6,"e":1.28e-5},{"p":1.4475,"f":1.000016,"r":1.7e-5,"e":1.3e-5},{"p":1.452,"f":0.999992,"r":-7e-6,"e":1.25e-5},{"p":1.4565,"f":1.000002,"r":3e-6,"e":1.35e-5},{"p":1.461,"f":0.99996,"r":-3.9e-5,"e":1.2e-5},{"p":1.4655,"f":1.000009,"r":1e-5,"e":1.3e-5},{"p":1.47,"f":0.999994,"r":-5e-6,"e":1.4e-5},{"p":1.4745,"f":1.000012,"r":1.3e-5,"e":1.28e-5},{"p":1.479,"f":0.999987,"r":-1.2e-5,"e":1.3e-5},{"p":1.4835,"f":1.000003,"r":4e-6,"e":1.25e-5},
{"p":1.488,"f":1.000008,"r":9e-6,"e":1.35e-5},{"p":1.4925,"f":0.999991,"r":-8e-6,"e":1.2e-5}
]},
"spacing":23,
"bounds":"flush",
"vconcat":[
{"width":611,"height":562,
"resolve":{"axis":{"x":"independent","y":"independent"}},
"layer":[
{"data":{"name":"obs"},"mark":{"type":"errorbar","ticks":true,"size":13,"thickness":1.3,"color":"#ff0000","opacity":0.7},
"encoding":{"x":{"field":"p","type":"quantitative","scale":{"domain":[-0.5,1.5],"nice":false,"zero":false},"axis":null},
"y":{"field":"f","type":"quantitative","scale":{"domain":[0.9996,1.00005],"nice":false,"zero":false},"axis":null},
"yError":{"field":"e"}}},
{"data":{"name":"obs"},"mark":{"type":"circle","color":"#ff0000","opacity":1,"size":58},
"encoding":{"x":{"field":"p","type":"quantitative","scale":{"domain":[-0.5,1.5],"nice":false,"zero":false},"axis":{"orient":"bottom","values":[-0.5,0,0.5,1,1.5],"labels":false,"title":null}},
"y":{"field":"f","type":"quantitative","scale":{"domain":[0.9996,1.00005],"nice":false,"zero":false},"axis":{"orient":"left","values":[0.9996,0.99965,0.9997,0.99975,0.9998,0.99985,0.9999,0.99995,1,1.00005],"format":"~g","labelPadding":29,"title":"Relative Flux","titleX":-163,"titleBaseline":"alphabetic"}}}},
{"data":{"name":"model"},"mark":{"type":"line","color":"#0000ff","strokeWidth":1.3},
"encoding":{"x":{"field":"p","type":"quantitative","scale":{"domain":[-0.5,1.5],"nice":false,"zero":false},"axis":{"orient":"top","values":[-0.5,0,0.5,1,1.5],"labels":false,"title":null}},
"y":{"field":"f","type":"quantitative","scale":{"domain":[0.9996,1.00005],"nice":false,"zero":false},"axis":{"orient":"right","values":[0.9996,0.99965,0.9997,0.99975,0.9998,0.99985,0.9999,0.99995,1,1.00005],"labels":false,"title":null}}}}
]},
{"width":611,"height":131,
"resolve":{"axis":{"x":"independent","y":"independent"}},
"layer":[
{"data":{"name":"obs"},"mark":{"type":"errorbar","ticks":true,"size":13,"thickness":1.3,"color":"#ff0000","opacity":0.7},
"encoding":{"x":{"field":"p","type":"quantitative","scale":{"domain":[-0.5,1.5],"nice":false,"zero":false},"axis":null},
"y":{"field":"r","type":"quantitative","scale":{"domain":[-0.00006,0.00006],"nice":false,"zero":false},"axis":null},
"yError":{"field":"e"}}},
{"data":{"name":"obs"},"mark":{"type":"circle","color":"#ff0000","opacity":1,"size":58},
"encoding":{"x":{"field":"p","type":"quantitative","scale":{"domain":[-0.5,1.5],"nice":false,"zero":false},"axis":{"orient":"bottom","values":[-0.5,0,0.5,1,1.5],"labelExpr":"(datum.value < 0 ? '-' : '') + abs(datum.value)","labelPadding":27,"title":"Phase","titleY":75.5,"titleBaseline":"alphabetic"}},
"y":{"field":"r","type":"quantitative","scale":{"domain":[-0.00006,0.00006],"nice":false,"zero":false},"axis":{"orient":"left","values":[-0.00006,-0.00004,-0.00002,0,0.00002,0.00004,0.00006],"labelExpr":"datum.value == 0 ? '0' : (datum.value < 0 ? '-' : '') + round(abs(datum.value) * 100000) + 'e-05'","labelPadding":29,"title":"Residual","titleX":-131,"titleBaseline":"alphabetic"}}}},
{"data":{"name":"zero"},"mark":{"type":"line","color":"#0000ff","strokeWidth":1.3,"strokeDash":[7,4]},
"encoding":{"x":{"field":"p","type":"quantitative","scale":{"domain":[-0.5,1.5],"nice":false,"zero":false},"axis":{"orient":"top","values":[-0.5,0,0.5,1,1.5],"labels":false,"title":null}},
"y":{"field":"r","type":"quantitative","scale":{"domain":[-0.00006,0.00006],"nice":false,"zero":false},"axis":{"orient":"right","values":[-0.00006,-0.00004,-0.00002,0,0.00002,0.00004,0.00006],"labels":false,"title":null}}}}
]}
]
}
